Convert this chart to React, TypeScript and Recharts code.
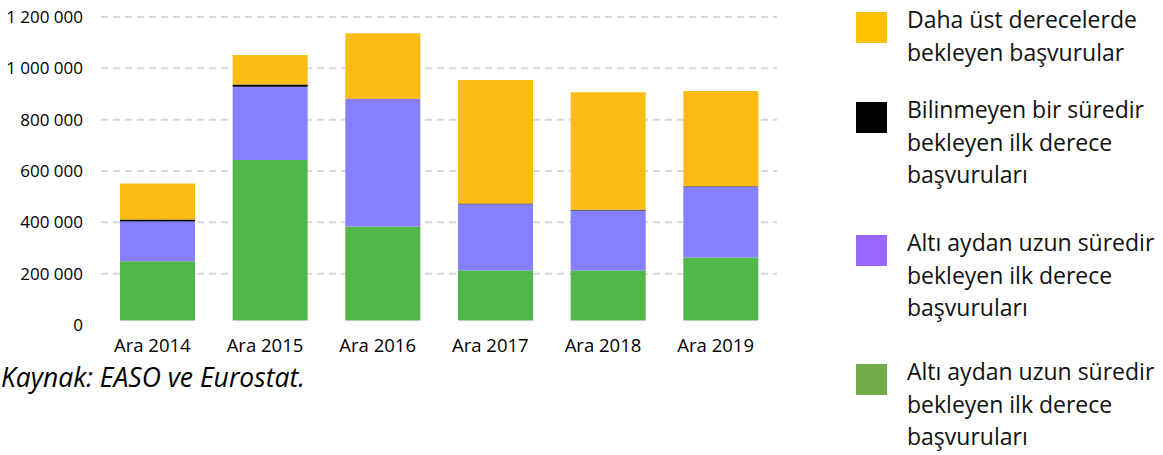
import React from 'react';
import { BarChart, Bar, XAxis, YAxis, CartesianGrid } from 'recharts';

const categories = ['Ara 2014', 'Ara 2015', 'Ara 2016', 'Ara 2017', 'Ara 2018', 'Ara 2019'];
const greenValues = [248000, 643000, 384000, 212000, 212000, 263000];
const purpleValues = [155000, 285000, 497000, 258000, 234000, 276000];
const blackValues = [8000, 9000, 500, 3000, 3000, 2000];
const yellowValues = [140000, 115000, 255000, 482000, 458000, 371000];
const yTicks = [0, 200000, 400000, 600000, 800000, 1000000, 1200000];

const legendItems = [
  { color: '#FFC000', lines: ['Daha üst derecelerde', 'bekleyen başvurular'] },
  { color: '#000000', lines: ['Bilinmeyen bir süredir', 'bekleyen ilk derece', 'başvuruları'] },
  { color: '#9966FF', lines: ['Altı aydan uzun süredir', 'bekleyen ilk derece', 'başvuruları'] },
  { color: '#70AD47', lines: ['Altı aydan uzun süredir', 'bekleyen ilk derece', 'başvuruları'] },
];
const legendTops = [12, 102, 235, 364];
const sourceText = 'Kaynak: EASO ve Eurostat.';

const data = categories.map((c, i) => ({
  name: c,
  green: greenValues[i],
  purple: purpleValues[i],
  black: blackValues[i],
  yellow: yellowValues[i],
}));

const fmt = (v: number) => String(v).replace(/\B(?=(\d{3})+(?!\d))/g, ' ');
const FONT = '"Open Sans", sans-serif';

export default function App() {
  return (
    <div style={{ position: 'absolute', left: 0, top: 0, width: 1163, height: 455, background: '#fff', fontFamily: FONT, overflow: 'hidden' }}>
      <div style={{ position: 'absolute', left: 0, top: 0 }}>
        <BarChart width={800} height={455} data={data} margin={{ top: 17, right: 23, bottom: 100, left: 0 }} barSize={75}>
          <CartesianGrid vertical={false} stroke="#d9d9d9" strokeWidth={2} strokeDasharray="7 5" />
          <XAxis
            dataKey="name"
            height={30}
            tickSize={0}
            tickMargin={14}
            axisLine={{ stroke: '#ffffff', strokeWidth: 9 }}
            tick={{ fill: '#000', fontSize: 18.5, fontFamily: FONT, dx: -5 }}
          />
          <YAxis
            width={101}
            domain={[0, 1200000]}
            ticks={yTicks}
            tickFormatter={fmt}
            axisLine={false}
            tickSize={0}
            tickMargin={18}
            tick={{ fill: '#000', fontSize: 17, fontFamily: FONT }}
          />
          <Bar dataKey="green" stackId="a" fill="#50B748" isAnimationActive={false} />
          <Bar dataKey="purple" stackId="a" fill="#8680FE" isAnimationActive={false} />
          <Bar dataKey="black" stackId="a" fill="#000000" isAnimationActive={false} />
          <Bar dataKey="yellow" stackId="a" fill="#FDBB15" isAnimationActive={false} />
        </BarChart>
      </div>
      <div style={{ position: 'absolute', left: 1, top: 359, fontSize: 26.5, fontStyle: 'italic', color: '#000', whiteSpace: 'nowrap', lineHeight: '36px' }}>
        {sourceText}
      </div>
      {legendItems.map((item, i) => (
        <div key={i} style={{ position: 'absolute', left: 856, top: legendTops[i] }}>
          <div style={{ position: 'absolute', left: 0, top: 0, width: 31, height: 31, background: item.color }} />
          <div style={{ position: 'absolute', left: 51, top: -9, fontSize: 23, lineHeight: '32.5px', color: '#111', whiteSpace: 'nowrap' }}>
            {item.lines.map((l, j) => (
              <div key={j}>{l}</div>
            ))}
          </div>
        </div>
      ))}
    </div>
  );
}
